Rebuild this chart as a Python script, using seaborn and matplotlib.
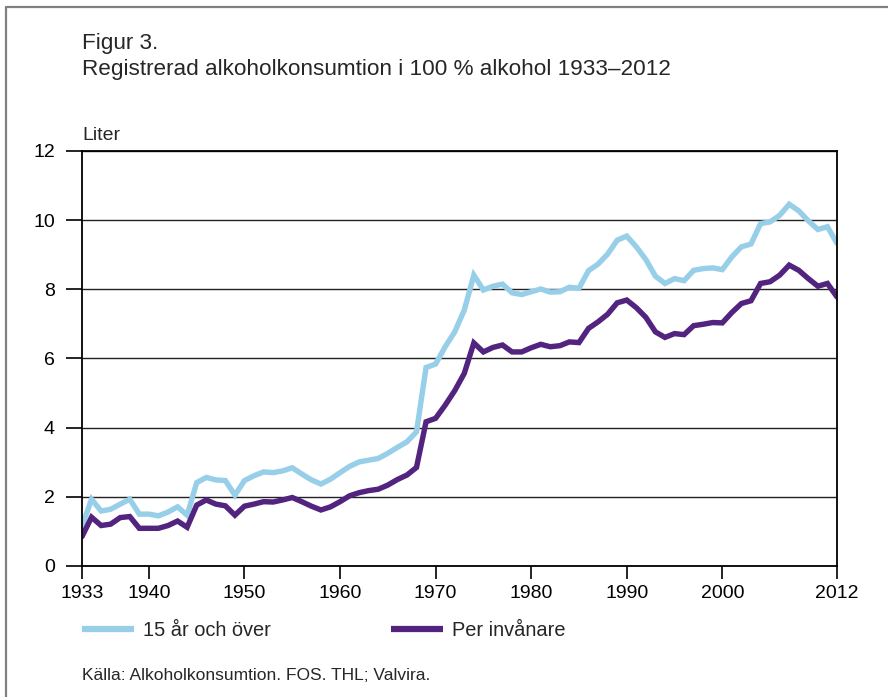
import numpy as np
import pandas as pd
import matplotlib
matplotlib.use("Agg")
import matplotlib.pyplot as plt
import seaborn as sns
from matplotlib.lines import Line2D

years = list(range(1933, 2013))

over15 = [1.14, 1.93, 1.59, 1.64, 1.79, 1.93, 1.50, 1.50, 1.45, 1.56,
          1.71, 1.47, 2.41, 2.56, 2.49, 2.47, 2.05, 2.47, 2.61, 2.72,
          2.70, 2.75, 2.84, 2.66, 2.49, 2.37, 2.51, 2.70, 2.88, 3.01,
          3.06, 3.11, 3.26, 3.43, 3.59, 3.88, 5.74, 5.84, 6.34, 6.77,
          7.40, 8.41, 7.98, 8.09, 8.15, 7.90, 7.85, 7.93, 8.01, 7.92,
          7.93, 8.06, 8.03, 8.54, 8.73, 9.02, 9.42, 9.54, 9.23, 8.86,
          8.38, 8.17, 8.31, 8.25, 8.55, 8.60, 8.62, 8.57, 8.94, 9.23,
          9.31, 9.90, 9.95, 10.14, 10.46, 10.27, 9.98, 9.73, 9.81, 9.33]

per_capita = [0.85, 1.41, 1.17, 1.21, 1.40, 1.43, 1.09, 1.09, 1.09, 1.17,
              1.30, 1.12, 1.76, 1.91, 1.79, 1.74, 1.47, 1.73, 1.79, 1.86,
              1.85, 1.91, 1.98, 1.86, 1.73, 1.62, 1.71, 1.86, 2.03, 2.12,
              2.18, 2.22, 2.34, 2.50, 2.63, 2.85, 4.17, 4.27, 4.65, 5.07,
              5.57, 6.45, 6.19, 6.32, 6.39, 6.19, 6.19, 6.31, 6.41, 6.34,
              6.37, 6.48, 6.46, 6.87, 7.06, 7.28, 7.61, 7.69, 7.47, 7.19,
              6.77, 6.61, 6.72, 6.69, 6.95, 6.99, 7.04, 7.03, 7.33, 7.59,
              7.67, 8.17, 8.22, 8.41, 8.70, 8.55, 8.31, 8.09, 8.17, 7.78]

series_names = ["15 år och över", "Per invånare"]
series_colors = ["#98cfe8", "#52237f"]
x_ticks = [1933, 1940, 1950, 1960, 1970, 1980, 1990, 2000, 2012]
y_ticks = [0, 2, 4, 6, 8, 10, 12]

df = pd.DataFrame({
    "År": years * 2,
    "Liter": over15 + per_capita,
    "Serie": [series_names[0]] * len(years) + [series_names[1]] * len(years),
})

sns.set_style("white")
plt.rcParams["font.family"] = ["Liberation Sans", "DejaVu Sans"]

W, H = 888, 697
fig = plt.figure(figsize=(W / 100, H / 100), dpi=100)
ax = fig.add_axes([82 / W, 1 - 566 / H, (837 - 82) / W, (566 - 151) / H])

sns.lineplot(data=df, x="År", y="Liter", hue="Serie", palette=series_colors,
             hue_order=series_names, linewidth=3.9, ax=ax, legend=False,
             solid_joinstyle="miter")

ax.set_xlim(1933, 2012)
ax.set_ylim(0, 12)
ax.set_xticks(x_ticks)
ax.set_yticks(y_ticks)
ax.set_xlabel("")
ax.set_ylabel("")
ax.yaxis.grid(True, color="#222222", linewidth=1.0)
ax.xaxis.grid(False)
ax.set_axisbelow(True)
for s in ax.spines.values():
    s.set_color("black")
    s.set_linewidth(1.3)
    s.set_visible(True)
ax.tick_params(axis="x", direction="out", length=9.5, width=1.2, color="black",
               pad=4, labelsize=14, labelcolor="black", bottom=True)
ax.tick_params(axis="y", direction="out", length=11.5, width=1.2, color="black",
               pad=8, labelsize=14, labelcolor="black", left=True)

# Texts
fig.text(82 / W, 1 - 43 / H, "Figur 3.", fontsize=16.2, va="center", ha="left")
fig.text(82 / W, 1 - 70 / H,
         "Registrerad alkoholkonsumtion i 100 % alkohol 1933–2012",
         fontsize=16.2, va="center", ha="left")
fig.text(82 / W, 1 - 136 / H, "Liter", fontsize=14, va="center", ha="left")
fig.text(82 / W, 1 - 675 / H, "Källa: Alkoholkonsumtion. FOS. THL; Valvira.",
         fontsize=12.5, va="center", ha="left")

# Legend
handles = [Line2D([0], [0], color=c, linewidth=4.5, solid_capstyle="butt")
           for c in series_colors]
fig.legend(handles, series_names, loc="center left",
           bbox_to_anchor=(82 / W, 1 - 630 / H), ncol=2, frameon=False,
           fontsize=14.4, handlelength=2.6, handletextpad=0.45,
           columnspacing=6.0, borderaxespad=0, borderpad=0)

# Outer frame (top and left edges)
fig.add_artist(Line2D([6 / W, 1], [1 - 7 / H, 1 - 7 / H], color="#808080",
                      linewidth=1.6, transform=fig.transFigure))
fig.add_artist(Line2D([6 / W, 6 / W], [0, 1 - 7 / H], color="#808080",
                      linewidth=1.6, transform=fig.transFigure))

fig.savefig("out.png", dpi=100, facecolor="white")
